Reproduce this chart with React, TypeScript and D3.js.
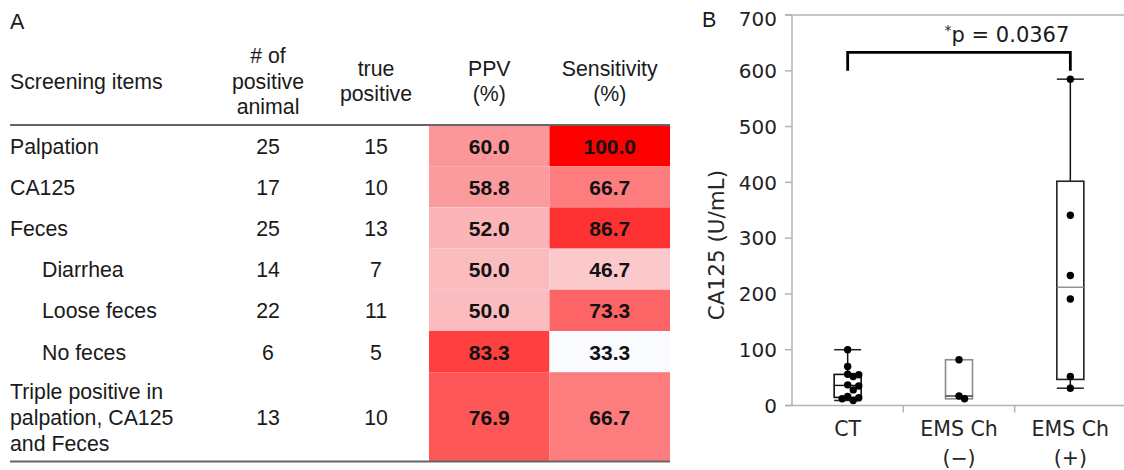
import React from "react";
import * as d3 from "d3";

// ---- Panel A: screening table ----
const screeningItems = [
  "Palpation",
  "CA125",
  "Feces",
  "Diarrhea",
  "Loose feces",
  "No feces",
  "Triple positive in\npalpation, CA125\nand Feces",
];
const itemIndented = [false, false, false, true, true, true, false];
const positiveAnimals = [25, 17, 25, 14, 22, 6, 13];
const truePositives = [15, 10, 13, 7, 11, 5, 10];
const ppvValues = [60.0, 58.8, 52.0, 50.0, 50.0, 83.3, 76.9];
const sensitivityValues = [100.0, 66.7, 86.7, 46.7, 73.3, 33.3, 66.7];
const heatColumns = ["PPV\n(%)", "Sensitivity\n(%)"];
const textColumns = ["Screening items", "# of\npositive\nanimal", "true\npositive"];

// ---- Panel B: CA125 box plot ----
const groups = ["CT", "EMS Ch\n(\u2212)", "EMS Ch\n(+)"];
const ctValues = [100, 70, 56, 55, 52, 37, 35, 28, 16, 14, 12, 9];
const emsNegValues = [82, 17, 12];
const emsPosValues = [585, 341, 233, 191, 52, 31];
const groupValues = [ctValues, emsNegValues, emsPosValues];
const yTicks = [0, 100, 200, 300, 400, 500, 600, 700];
const yLabel = "CA125 (U/mL)";
const pValueText = "p = 0.0367";
const pValueMark = "*";

const W = 1124;
const H = 470;
const tableFont = "'Liberation Sans', Arial, sans-serif";
const plotFont = "'DejaVu Sans', Verdana, sans-serif";

// Excel-style exclusive quartile
function quantileExc(sorted: number[], p: number) {
  const n = sorted.length;
  const h = (n + 1) * p;
  if (h <= 1) return sorted[0];
  if (h >= n) return sorted[n - 1];
  const lo = Math.floor(h);
  return sorted[lo - 1] + (h - lo) * (sorted[lo] - sorted[lo - 1]);
}

function boxStats(values: number[]) {
  const s = [...values].sort((a, b) => a - b);
  const q1 = quantileExc(s, 0.25);
  const med = quantileExc(s, 0.5);
  const q3 = quantileExc(s, 0.75);
  const iqr = q3 - q1;
  const lowW = d3.min(s.filter((v) => v >= q1 - 1.5 * iqr)) as number;
  const highW = d3.max(s.filter((v) => v <= q3 + 1.5 * iqr)) as number;
  return { q1, med, q3, lowW, highW };
}

// deterministic swarm offsets so overlapping dots spread sideways
function swarm(ys: number[], r: number) {
  const placed: { x: number; y: number }[] = [];
  const order = ys.map((y, i) => i).sort((a, b) => ys[a] - ys[b]);
  const out = new Array(ys.length).fill(0);
  const step = r * 1.5;
  const minD = r * 1.55;
  for (const i of order) {
    const y = ys[i];
    let chosen = 0;
    for (let k = 0; k < 20; k++) {
      const cand = k === 0 ? 0 : (k % 2 === 1 ? 1 : -1) * Math.ceil(k / 2) * step;
      if (placed.every((p) => Math.hypot(p.x - cand, p.y - y) >= minD)) {
        chosen = cand;
        break;
      }
    }
    placed.push({ x: chosen, y });
    out[i] = chosen;
  }
  return out;
}

function PanelA() {
  const lineH = 24;
  const baseRow = 41.2;
  const top = 125;
  const lineCounts = screeningItems.map((s) => s.split("\n").length);
  const heights = lineCounts.map((c) => baseRow + (c - 1) * lineH);
  const rowTops = heights.map((_, i) => top + d3.sum(heights.slice(0, i)));
  const bottom = top + d3.sum(heights);

  const heatX = d3.scaleBand<string>().domain(heatColumns).range([429, 670]).padding(0);
  const allVals = [...ppvValues, ...sensitivityValues];
  const color = d3
    .scaleLinear<string>()
    .domain(d3.extent(allVals) as [number, number])
    .range(["#fafbff", "#ff0000"])
    .interpolate(d3.interpolateRgb);

  const colCenters = [10, 268, 376];
  const headerBaselines = (n: number) =>
    n === 3 ? [63, 88.5, 114] : n === 2 ? [75.5, 101] : [89];

  const rows = screeningItems.map((item, i) => ({
    item,
    indent: itemIndented[i],
    pos: positiveAnimals[i],
    tp: truePositives[i],
    heat: [ppvValues[i], sensitivityValues[i]],
    y0: rowTops[i],
    h: heights[i],
  }));

  return (
    <g fontFamily={tableFont} fontSize={21.3} fill="#1a1a1a">
      <text x={10} y={29} fontSize={21.5}>A</text>
      {textColumns.map((c, ci) => {
        const lines = c.split("\n");
        const bl = headerBaselines(lines.length);
        return (
          <text key={c} x={colCenters[ci]} textAnchor={ci === 0 ? "start" : "middle"}>
            {lines.map((l, li) => (
              <tspan key={li} x={colCenters[ci]} y={bl[li]}>{l}</tspan>
            ))}
          </text>
        );
      })}
      {heatColumns.map((c) => {
        const lines = c.split("\n");
        const bl = headerBaselines(lines.length);
        const cx = (heatX(c) as number) + heatX.bandwidth() / 2;
        return (
          <text key={c} textAnchor="middle">
            {lines.map((l, li) => (
              <tspan key={li} x={cx} y={bl[li]}>{l}</tspan>
            ))}
          </text>
        );
      })}
      {rows.map((r, i) => {
        const cy = r.y0 + r.h / 2;
        const lines = r.item.split("\n");
        return (
          <g key={i}>
            {heatColumns.map((c, ci) => (
              <rect
                key={c}
                x={heatX(c) as number}
                y={r.y0}
                width={heatX.bandwidth()}
                height={r.h}
                fill={color(r.heat[ci])}
              />
            ))}
            <text x={r.indent ? 42 : 10}>
              {lines.map((l, li) => (
                <tspan key={li} x={r.indent ? 42 : 10} y={cy + 8 + (li - (lines.length - 1) / 2) * 25.8}>
                  {l}
                </tspan>
              ))}
            </text>
            <text x={colCenters[1]} y={cy + 8} textAnchor="middle">{r.pos}</text>
            <text x={colCenters[2]} y={cy + 8} textAnchor="middle">{r.tp}</text>
            {heatColumns.map((c, ci) => (
              <text
                key={c}
                x={(heatX(c) as number) + heatX.bandwidth() / 2}
                y={cy + 8}
                textAnchor="middle"
                fontWeight="bold"
                fontSize={21}
                fill="#111"
              >
                {r.heat[ci].toFixed(1)}
              </text>
            ))}
          </g>
        );
      })}
      <line x1={10} x2={670} y1={top} y2={top} stroke="#666" strokeWidth={2} />
      <line x1={10} x2={670} y1={bottom} y2={bottom} stroke="#666" strokeWidth={2} />
    </g>
  );
}

function PanelB() {
  const x = d3.scaleBand<string>().domain(groups).range([792, 1126]).padding(0);
  const y = d3.scaleLinear().domain([0, 700]).range([405.5, 15]);
  const axisColor = "#b3b3b3";
  const boxW = 27;
  const r = 3.7;
  const boxStroke = ["#111", "#8c8c8c", "#222"];
  const medianStroke = ["#111", "#333", "#8c8c8c"];
  const xc = (g: string) => (x(g) as number) + x.bandwidth() / 2;

  const bracketBottom = 600;
  const bracketTop = 633;
  const pLabelAt = 651;

  return (
    <g>
      <text x={702} y={27} fontFamily={tableFont} fontSize={21.5} fill="#1a1a1a">B</text>
      {/* frame */}
      <line x1={785} x2={W} y1={y(700)} y2={y(700)} stroke={axisColor} strokeWidth={1.5} />
      <line x1={785} x2={W} y1={y(0)} y2={y(0)} stroke={axisColor} strokeWidth={1.5} />
      <line x1={792} x2={792} y1={y(700)} y2={y(0)} stroke={axisColor} strokeWidth={1.5} />
      {groups.slice(1).map((g) => (
        <line key={g} x1={x(g) as number} x2={x(g) as number} y1={y(0)} y2={y(0) + 7} stroke={axisColor} strokeWidth={1.5} />
      ))}
      {yTicks.map((t) => (
        <g key={t}>
          <line x1={785} x2={792} y1={y(t)} y2={y(t)} stroke={axisColor} strokeWidth={1.5} />
          <text
            x={777}
            y={Math.max(y(t), 19)}
            dy="0.36em"
            textAnchor="end"
            fontFamily={plotFont}
            fontSize={20}
            fill="#1f1f26"
          >
            {t}
          </text>
        </g>
      ))}
      <text
        transform={`translate(716,245) rotate(-90)`}
        textAnchor="middle"
        dy="0.35em"
        fontFamily={plotFont}
        fontSize={21.5}
        fill="#262626"
      >
        {yLabel}
      </text>
      {groups.map((g) => {
        const lines = g.split("\n");
        return (
          <text key={g} textAnchor="middle" fontFamily={plotFont} fontSize={20.5} fill="#262626">
            {lines.map((l, li) => (
              <tspan key={li} x={xc(g)} y={436 + li * 29}>{l}</tspan>
            ))}
          </text>
        );
      })}
      {groups.map((g, gi) => {
        const vals = groupValues[gi];
        const s = boxStats(vals);
        const cx = xc(g);
        const ys = vals.map((v) => y(v));
        const offs = swarm(ys, r);
        return (
          <g key={g}>
            <line x1={cx} x2={cx} y1={y(s.highW)} y2={y(s.q3)} stroke="#111" strokeWidth={1.5} />
            <line x1={cx} x2={cx} y1={y(s.q1)} y2={y(s.lowW)} stroke="#111" strokeWidth={1.5} />
            {s.highW > s.q3 && (
              <line x1={cx - boxW / 2} x2={cx + boxW / 2} y1={y(s.highW)} y2={y(s.highW)} stroke="#222" strokeWidth={1.5} />
            )}
            {s.lowW < s.q1 && (
              <line x1={cx - boxW / 2} x2={cx + boxW / 2} y1={y(s.lowW)} y2={y(s.lowW)} stroke="#222" strokeWidth={1.5} />
            )}
            <rect
              x={cx - boxW / 2}
              y={y(s.q3)}
              width={boxW}
              height={y(s.q1) - y(s.q3)}
              fill="none"
              stroke={boxStroke[gi]}
              strokeWidth={1.6}
            />
            <line x1={cx - boxW / 2} x2={cx + boxW / 2} y1={y(s.med)} y2={y(s.med)} stroke={medianStroke[gi]} strokeWidth={1.4} />
            {vals.map((v, i) => (
              <circle key={i} cx={cx + offs[i]} cy={y(v)} r={r} fill="#000" />
            ))}
          </g>
        );
      })}
      <path
        d={`M${xc(groups[0])},${y(bracketBottom)}V${y(bracketTop)}H${xc(groups[2])}V${y(bracketBottom)}`}
        fill="none"
        stroke="#000"
        strokeWidth={2.8}
      />
      <text x={xc(groups[2]) - 1} y={y(pLabelAt)} textAnchor="end" fontFamily={plotFont} fontSize={21} fill="#1a1a1a">
        <tspan fontSize={14} dy={-7}>{pValueMark}</tspan>
        <tspan dy={7}>{pValueText}</tspan>
      </text>
    </g>
  );
}

export default function App() {
  return (
    <svg
      width={W}
      height={H}
      viewBox={`0 0 ${W} ${H}`}
      style={{ position: "absolute", left: 0, top: 0, background: "#fff", display: "block" }}
    >
      <rect width={W} height={H} fill="#fff" />
      <PanelA />
      <PanelB />
    </svg>
  );
}
